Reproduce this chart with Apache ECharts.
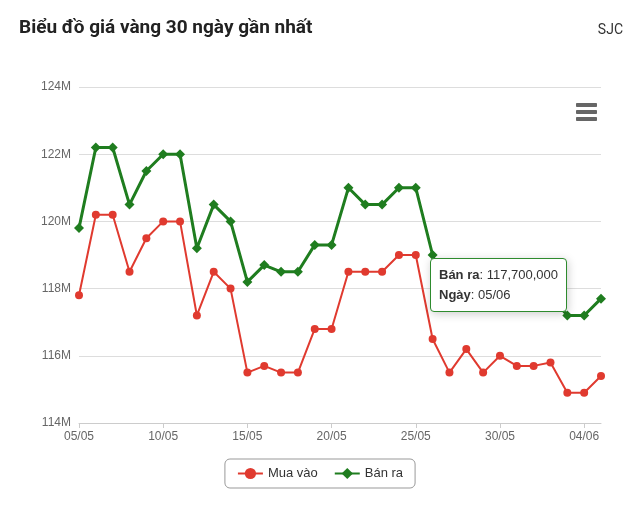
<!DOCTYPE html>
<html><head><meta charset="utf-8">
<script src="https://cdn.jsdelivr.net/npm/echarts@6/dist/echarts.min.js"></script>
<style>html,body{margin:0;padding:0;background:#fff}#c{width:640px;height:506px}</style>
</head><body><div id="c"></div>
<script>
const dates = ["05/05","06/05","07/05","08/05","09/05","10/05","11/05","12/05","13/05","14/05","15/05","16/05","17/05","18/05","19/05","20/05","21/05","22/05","23/05","24/05","25/05","26/05","27/05","28/05","29/05","30/05","31/05","01/06","02/06","03/06","04/06","05/06"];
const muaVao = [117.8,120.2,120.2,118.5,119.5,120.0,120.0,117.2,118.5,118.0,115.5,115.7,115.5,115.5,116.8,116.8,118.5,118.5,118.5,119.0,119.0,116.5,115.5,116.2,115.5,116.0,115.7,115.7,115.8,114.9,114.9,115.4];
const banRa = [119.8,122.2,122.2,120.5,121.5,122.0,122.0,119.2,120.5,120.0,118.2,118.7,118.5,118.5,119.3,119.3,121.0,120.5,120.5,121.0,121.0,119.0,117.5,118.7,118.0,118.5,118.2,118.2,117.8,117.2,117.2,117.7];
const yTicks = [114,116,118,120,122,124];
const chart = echarts.init(document.getElementById('c'));
const fmt = v => (Math.round(v*1e6)).toLocaleString('en-US');
chart.setOption({
  animation:false,
  title:[{text:'Biểu đồ giá vàng 30 ngày gần nhất',left:14,top:14,textStyle:{fontSize:19,fontWeight:'bold',color:'#222',fontFamily:'Roboto'}},
         {text:'SJC',right:12,top:18,textStyle:{fontSize:14,fontWeight:'normal',color:'#333',fontFamily:'Roboto'}}],
  toolbox:{right:28,top:88,itemSize:20,feature:{myMenu:{show:true,title:'menu',icon:'path://M0,2H20V5H0ZM0,9H20V12H0ZM0,16H20V19H0Z',onclick:function(){}}},iconStyle:{color:'#666',borderColor:'#666'}},
  grid:{left:79,right:39,top:87,bottom:83},
  legend:{bottom:18,left:'center',data:['Mua vào','Bán ra'],borderColor:'#999',borderWidth:1,borderRadius:5,padding:[8,12],itemGap:16,textStyle:{fontSize:13,color:'#333'}},
  tooltip:{trigger:'item',backgroundColor:'#fff',borderColor:'#2e8b2e',borderWidth:1,padding:[6,8],
    position:[430,258],textStyle:{fontSize:13,color:'#333'},
    formatter:p=>'<b>'+p.seriesName+'</b>: '+fmt(p.value)+'<br/><b>Ngày</b>: '+dates[p.dataIndex]},
  xAxis:{type:'category',data:dates,boundaryGap:false,
    axisLine:{lineStyle:{color:'#ccc'}},axisTick:{show:true,interval:4,lineStyle:{color:'#ccc'}},
    axisLabel:{interval:4,color:'#666',fontSize:12}},
  yAxis:{type:'value',min:114,max:124,interval:2,
    axisLabel:{color:'#666',fontSize:12,formatter:v=>yTicks.includes(v)?v+'M':''},
    splitLine:{lineStyle:{color:'#ddd'}}},
  series:[
    {name:'Mua vào',type:'line',data:muaVao,color:'#e03a2f',symbol:'circle',symbolSize:8,lineStyle:{width:2}},
    {name:'Bán ra',type:'line',data:banRa,color:'#1f7d1f',symbol:'diamond',symbolSize:10,lineStyle:{width:3}}
  ]
});
setTimeout(()=>chart.dispatchAction({type:'showTip',seriesIndex:1,dataIndex:31}),50);
</script></body></html>
